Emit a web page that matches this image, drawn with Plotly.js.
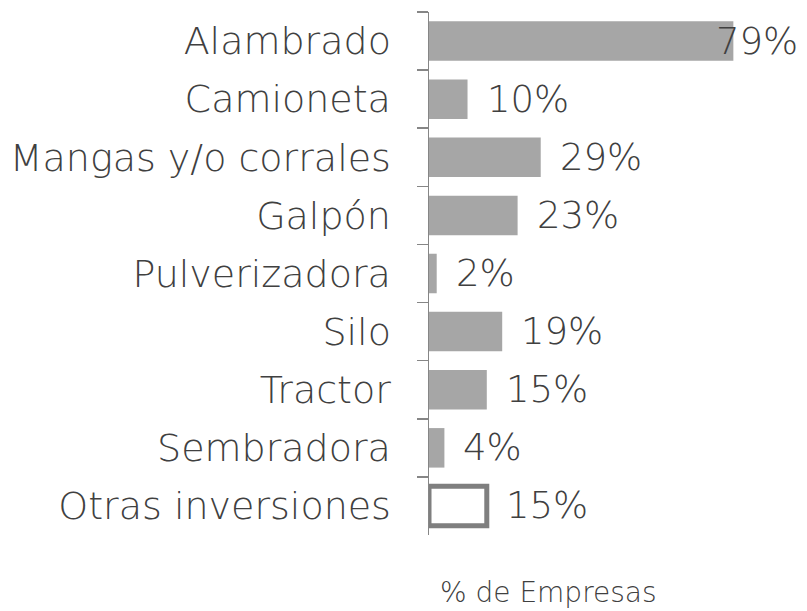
<!DOCTYPE html>
<html>
<head>
<meta charset="utf-8">
<script src="https://cdn.plot.ly/plotly-3.0.1.min.js"></script>
<style>html,body{margin:0;padding:0;background:#fff;}#chart{width:807px;height:611px;}</style>
</head>
<body>
<div id="chart"></div>
<script>
const categories = ["Alambrado", "Camioneta", "Mangas y/o corrales", "Galpón", "Pulverizadora", "Silo", "Tractor", "Sembradora", "Otras inversiones"];
const values = [79, 10, 29, 23, 2, 19, 15, 4, 15];
const labels = ["79%", "10%", "29%", "23%", "2%", "19%", "15%", "4%", "15%"];
const axisTitle = "% de Empresas";

const FONT = "'DejaVu Sans', sans-serif";
const TXT = "#404040";
const xMax = 95;

const fillColors = categories.map((c, i) => i === categories.length - 1 ? "#ffffff" : "#a6a6a6");
const lineColors = categories.map((c, i) => i === categories.length - 1 ? "#7f7f7f" : "#a6a6a6");
const lineWidths = categories.map((c, i) => i === categories.length - 1 ? 5 : 0);

const trace = {
  type: "bar",
  orientation: "h",
  x: values,
  y: categories,
  marker: {color: fillColors, line: {color: lineColors, width: lineWidths}},
  hoverinfo: "none"
};

const lblFont = {family: FONT, size: 37, color: TXT, weight: 200};
const annotations = values.map((v, i) => {
  const overflow = v > 70;
  return overflow ? {
    xref: "paper", yref: "y", x: 1.015, y: categories[i], text: labels[i],
    xanchor: "right", yanchor: "middle", showarrow: false, font: lblFont
  } : {
    xref: "x", yref: "y", x: v, y: categories[i], text: labels[i],
    xanchor: "left", yanchor: "middle", xshift: 17, showarrow: false, font: lblFont
  };
});
annotations.push({
  xref: "paper", yref: "paper", x: (548 - 429) / (795 - 429), y: 0, yshift: -57,
  xanchor: "center", yanchor: "middle", text: axisTitle, showarrow: false,
  font: {family: FONT, size: 28, color: TXT, weight: 200}
});

const layout = {
  width: 807, height: 611,
  margin: {l: 429, r: 12, t: 12, b: 76},
  paper_bgcolor: "#ffffff", plot_bgcolor: "#ffffff",
  showlegend: false,
  bargap: 0.32,
  xaxis: {range: [0, xMax], visible: false, showgrid: false, zeroline: false, fixedrange: true},
  yaxis: {
    type: "category", autorange: "reversed",
    showline: true, linecolor: "#868686", linewidth: 1.5,
    ticks: "outside", ticklen: 11, tickcolor: "#868686", tickwidth: 1.5,
    tickson: "boundaries", ticklabelstandoff: 29,
    tickfont: {family: FONT, size: 38, color: TXT, weight: 200},
    showgrid: false, zeroline: false
  },
  annotations: annotations
};

Plotly.newPlot("chart", [trace], layout, {staticPlot: true, displayModeBar: false});
</script>
</body>
</html>
